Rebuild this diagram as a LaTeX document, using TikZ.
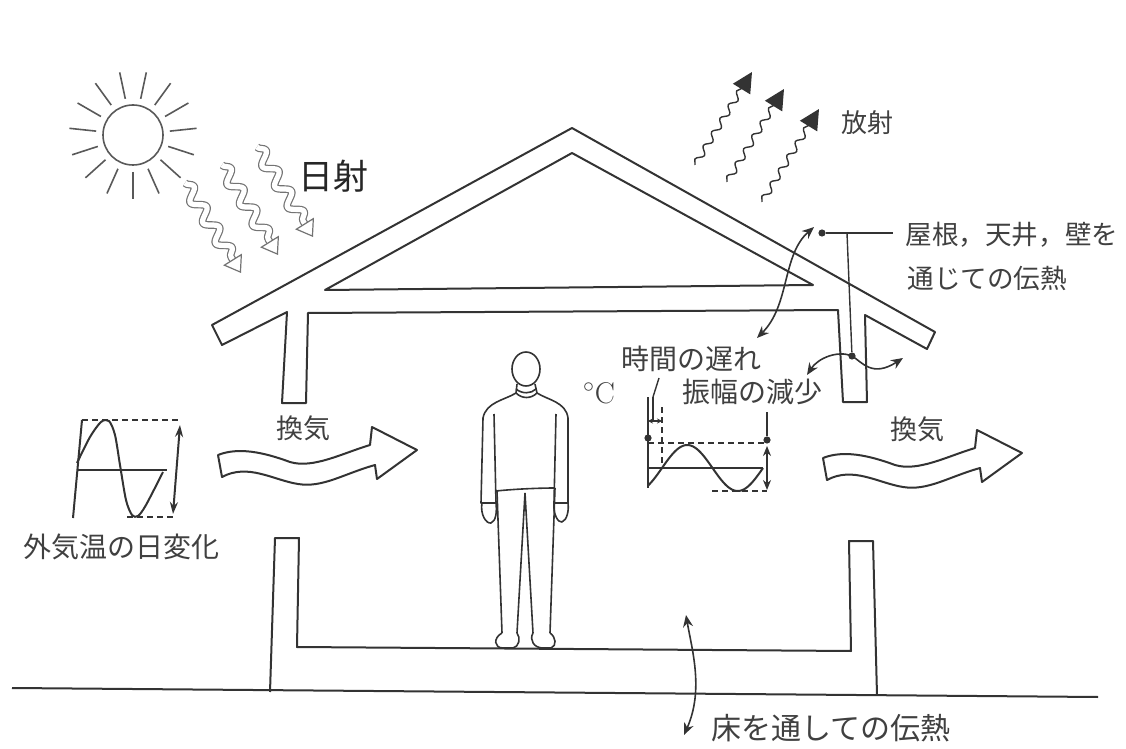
\documentclass[tikz,border=0pt]{standalone}
\usepackage{fontspec}
\newfontfamily\jp{Noto Sans CJK JP}
\usepackage{tikz}
\usetikzlibrary{arrows.meta, decorations.pathmorphing}

\begin{document}
\begin{tikzpicture}[x=0.5pt, y=-0.5pt, line join=round,
   house/.style={draw=black!80, line width=1pt},
   person/.style={draw=black!80, line width=0.8pt},
   graph/.style={draw=black!80, line width=1pt},
   dashline/.style={draw=black!80, line width=0.8pt, dash pattern=on 3pt off 2pt},
   leader/.style={draw=black!80, line width=0.7pt},
   flow/.style={draw=black!80, line width=0.8pt, {Stealth[length=6pt,width=5pt]}-{Stealth[length=6pt,width=5pt]}},
   sunray/.style={draw=black!65, line width=0.8pt},
   solarwave/.style={draw=black!55, line width=0.6pt, double=white, double distance=2.6pt,
      decorate, decoration={snake, amplitude=3pt, segment length=12pt, post length=7pt},
      -{Triangle[open, length=8pt, width=11pt]}},
   heatwave/.style={draw=black!80, line width=0.7pt,
      decorate, decoration={snake, amplitude=1.6pt, segment length=8pt, post length=8pt},
      -{Triangle[length=10pt, width=10pt]}},
   lbl/.style={font=\jp\fontsize{14pt}{16pt}\selectfont, text=black!75, inner sep=0pt},
   dot/.style={circle, fill=black!80, inner sep=0pt, minimum size=3.6pt},
   ventarrow/.pic={
      \draw[house] (0,0) .. controls (20,-8) and (45,-3) .. (72,7)
         .. controls (95,14) and (125,-2) .. (152,-10) -- (154,-28) -- (199,-5)
         -- (159,24) -- (157,10) .. controls (125,19) and (105,33) .. (80,29)
         .. controls (55,25) and (30,8) .. (4,22) -- cycle;}]
\useasboundingbox (0,0) rectangle (1126,749);

\node[circle, draw=black!65, line width=0.8pt, minimum size=30pt, inner sep=0pt] (sun) at (133,135) {};
\foreach \a in {90,114,...,432}
   \draw[sunray] (sun.center) ++(\a:37) -- ++(\a:27);
\foreach \sx/\sy in {185/183, 222/165, 257/147}
   \draw[solarwave] (\sx,\sy) -- ++(56,90);
\node[lbl, font=\jp\fontsize{17.5pt}{19pt}\selectfont, text=black!85] (lblSolar) at (333,176) {日射};

\foreach \sx/\sy in {695/165, 727/182, 762/202}
   \draw[heatwave] (\sx,\sy) -- ++(57,-93);
\node[lbl, font=\jp\fontsize{13pt}{15pt}\selectfont] (lblRad) at (867,123) {放射};

\draw[house] (212,325) -- (572,128) -- (935,332) -- (927,349) -- (865,315) -- (867,402)
   -- (843,402) -- (838,310) -- (308,313) -- (306,403) -- (282,403) -- (287,312)
   -- (222,345) -- cycle;
\draw[house] (325,290) -- (572,153) -- (813,285) -- cycle;
\draw[house] (270,692) -- (275,538) -- (299,538) -- (297,647) -- (851,651) -- (849,541)
   -- (873,541) -- (877,695);
\draw[house] (12,688) -- (1098,697);

\node[dot] (roofDot) at (822,233) {};
\node[dot] (wallDot) at (852,356) {};
\coordinate (roofCorner) at (847,233);
\coordinate (roofEnd) at (893,233);
\draw[leader] (roofDot) -- (roofEnd);
\draw[leader] (roofCorner) -- (wallDot);
\coordinate (roofIn) at (757,338);
\coordinate (roofOut) at (814,227);
\draw[flow] (roofIn) .. controls (790,305) and (782,255) .. (roofOut);
\coordinate (wallIn) at (807,375);
\coordinate (wallOut) at (903,358);
\draw[flow] (wallIn) .. controls (818,358) and (838,350) .. (wallDot.center)
   .. controls (862,362) and (872,378) .. (wallOut);
\node[lbl, font=\jp\fontsize{13.3pt}{15pt}\selectfont, anchor=west] (lblRoof1) at (905,235) {屋根，天井，壁を};
\node[lbl, font=\jp\fontsize{13.3pt}{15pt}\selectfont, anchor=west] (lblRoof2) at (907,278) {通じての伝熱};

\coordinate (floorIn) at (686,615);
\coordinate (floorOut) at (684,735);
\draw[flow] (floorIn) .. controls (692,650) and (704,690) .. (floorOut);
\node[lbl, font=\jp\fontsize{15pt}{17pt}\selectfont] (lblFloor) at (831,728) {床を通しての伝熱};

\draw[graph] (82,420) -- (73,518);
\draw[dashline] (82,420) -- (180,420);
\draw[graph] (77,470) -- (167,470);
\draw[graph] plot[smooth] coordinates {(77,463) (90,437) (101,422) (109,421) (115,435)
   (120,465) (126,500) (132,515) (138,516) (146,505) (163,472)};
\draw[dashline] (127,517) -- (175,517);
\draw[graph, {Stealth[length=6pt,width=4pt]}-{Stealth[length=6pt,width=4pt]}] (180,425) -- (173,514);
\node[lbl] (lblOut) at (122,547) {外気温の日変化};

\pic at (218,455) {ventarrow};
\pic at (823,458) {ventarrow};
\node[lbl, font=\jp\fontsize{13.5pt}{15pt}\selectfont] (lblVentL) at (303,428) {換気};
\node[lbl, font=\jp\fontsize{13.5pt}{15pt}\selectfont] (lblVentR) at (917,429) {換気};

\draw[person] (526,369) ellipse [x radius=7pt, y radius=8.5pt];
\draw[person] (517,384) -- (516,393) (535,384) -- (537,393);
\draw[person] (516,389) .. controls (522,394) and (531,394) .. (536,389);
\draw[person] (516,393) .. controls (522,399) and (531,399) .. (537,393);
\draw[person] (516,393) .. controls (505,400) and (486,402) .. (483,418) -- (481,503) -- (496,503) -- (494,414);
\draw[person] (537,393) .. controls (548,400) and (566,402) .. (568,418) -- (568,503) -- (554,503) -- (556,414);
\draw[person] (496,491) .. controls (515,489) and (540,488) .. (555,488);
\draw[person] (482,503) .. controls (480,514) and (486,524) .. (491,523) .. controls (496,521) and (497,512) .. (496,503);
\draw[person] (554,503) .. controls (553,514) and (558,523) .. (562,522) .. controls (567,520) and (569,511) .. (568,503);
\draw[person] (497,491) -- (502,633) (525,493) -- (517,633) (525,493) -- (533,633) (555,488) -- (550,633);
\draw[person] (502,633) .. controls (493,638) and (494,648) .. (503,648) -- (513,648) .. controls (519,647) and (521,638) .. (517,633);
\draw[person] (533,633) .. controls (529,640) and (534,648) .. (543,648) -- (551,648) .. controls (557,646) and (556,637) .. (550,633);

\node[font=\fontsize{15pt}{17pt}\selectfont, text=black!75, inner sep=0pt] (lblDeg) at (599,393) {$^\circ$C};
\node[lbl] (lblLag) at (691,359) {時間の遅れ};
\node[lbl] (lblAmp) at (752,392) {振幅の減少};
\draw[graph] (648,397) -- (648,488);
\draw[leader] (653,397) -- (653,421);
\draw[leader] (659,378) .. controls (656,388) .. (653,397);
\draw[leader, {Stealth[length=2.5pt,width=2.5pt]}-{Stealth[length=2.5pt,width=2.5pt]}] (648,421) -- (662,421);
\draw[dashline] (662,407) -- (662,468);
\node[dot] (lagDot) at (648,438) {};
\node[dot] (ampDot) at (767,440) {};
\draw[dashline] (lagDot) ++(0,5) -- (767,443);
\draw[graph] (648,468) -- (763,468);
\draw[graph] plot[domain=-50:360, samples=60, smooth] ({662+0.2806*\x}, {468-23*sin(\x)});
\draw[dashline] (712,491) -- (767,491);
\draw[graph] (767,412) -- (ampDot);
\draw[graph, {Stealth[length=5pt,width=4pt]}-{Stealth[length=5pt,width=4pt]}] (767,446) -- (767,490);
\end{tikzpicture}
\end{document}
